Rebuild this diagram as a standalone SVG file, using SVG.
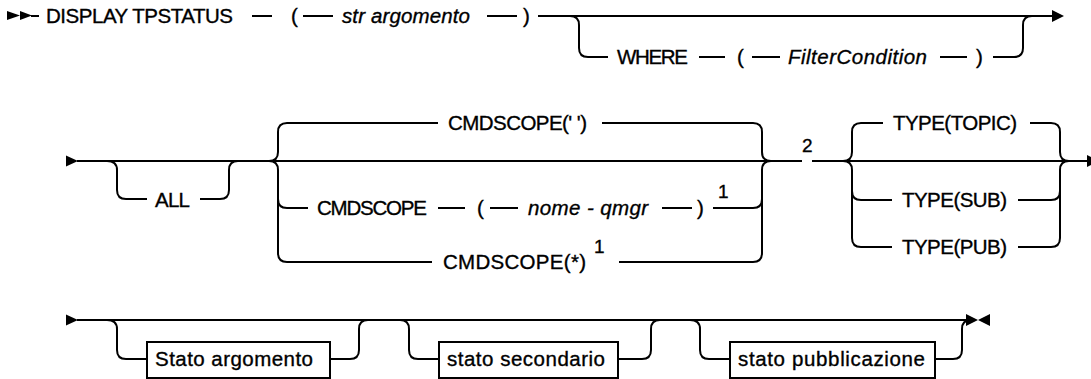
<svg xmlns="http://www.w3.org/2000/svg" width="1091" height="379" viewBox="0 0 1091 379">
<style>
.t{font-family:"Liberation Sans",Arial,sans-serif;font-size:20.5px;fill:#000;stroke:#000;stroke-width:0.35}
.i{font-style:italic}
.s{font-size:19px}
.ln{fill:none;stroke:#000;stroke-width:2}
.box{fill:#fff;stroke:#000;stroke-width:2}
.ah{fill:#000}
</style>
<rect width="1091" height="379" fill="#fff"/>
<g id="connectors">
<polygon class="ah" points="7,11 20,15.5 7,20"/>
<polygon class="ah" points="20,11 32,15.5 20,20"/>
<path class="ln" d="M31,16H39"/>
<path class="ln" d="M252,16H272M303,16H333M487,16H517M538,16H1053"/>
<polygon class="ah" points="1052,10 1064,16 1052,22"/>
<path class="ln" d="M570,16Q579,16 579,25V48Q579,57 588,57H608"/>
<path class="ln" d="M699,57H725M752,57H780M940,57H967M993,57H1014Q1023,57 1023,48V25Q1023,16 1032,16"/>
<polygon class="ah" points="66,155.5 78,161 66,166.5"/>
<path class="ln" d="M77,161H802M812,161H1088"/>
<polygon class="ah" points="1087,155 1099,161 1087,167"/>
<path class="ln" d="M107,161Q117,161 117,170V190Q117,199 126,199H147M200,199H220Q229,199 229,190V170Q229,161 238,161"/>
<path class="ln" d="M269,161Q278,161 278,152V132Q278,123 287,123H438M602,123H753Q762,123 762,132V152Q762,161 771,161"/>
<path class="ln" d="M269,161Q278,161 278,170V253Q278,262 287,262H432M619,262H753Q762,262 762,253V170Q762,161 771,161"/>
<path class="ln" d="M278,199Q278,208 287,208H308M438,208H465M490,208H518M662,208H692M713,208H753Q762,208 762,199"/>
<path class="ln" d="M843,161Q852,161 852,152V132Q852,123 861,123H883M1030,123H1051Q1060,123 1060,132V152Q1060,161 1069,161"/>
<path class="ln" d="M843,161Q852,161 852,170V238Q852,247 861,247H892M1018,247H1051Q1060,247 1060,238V170Q1060,161 1069,161"/>
<path class="ln" d="M852,191Q852,200 861,200H892M1018,200H1051Q1060,200 1060,191"/>
<polygon class="ah" points="66,314.5 78,320 66,325.5"/>
<path class="ln" d="M77,320H966"/>
<polygon class="ah" points="966,314 978,320 966,326"/>
<polygon class="ah" points="990,314 978,320 990,326"/>
<path class="ln" d="M107,320Q117,320 117,329V350Q117,359 126,359H147M330,359H350Q359,359 359,350V329Q359,320 368,320"/>
<path class="ln" d="M400,320Q409,320 409,329V350Q409,359 418,359H439M618,359H642Q651,359 651,350V329Q651,320 660,320"/>
<path class="ln" d="M690,320Q700,320 700,329V350Q700,359 709,359H730M935,359H953Q962,359 962,350V329Q962,320 971,320"/>
</g>
<g id="n-display"><text class="t" x="46" y="23" textLength="187">DISPLAY TPSTATUS</text></g>
<g id="n-lp1"><text class="t" x="291" y="23">(</text></g>
<g id="n-str"><text class="t i" x="342" y="23" textLength="128">str argomento</text></g>
<g id="n-rp1"><text class="t" x="523" y="23">)</text></g>
<g id="n-where"><text class="t" x="617" y="64" textLength="71">WHERE</text></g>
<g id="n-lp2"><text class="t" x="737" y="64">(</text></g>
<g id="n-filter"><text class="t i" x="788" y="64" textLength="139">FilterCondition</text></g>
<g id="n-rp2"><text class="t" x="976" y="64">)</text></g>
<g id="n-all"><text class="t" x="155" y="207" textLength="35">ALL</text></g>
<g id="n-cmdblank"><text class="t" x="448" y="130" textLength="139">CMDSCOPE(' ')</text></g>
<g id="n-cmdq"><text class="t" x="317" y="215" textLength="110">CMDSCOPE</text></g>
<g id="n-lp3"><text class="t" x="477" y="215">(</text></g>
<g id="n-qmgr"><text class="t i" x="528" y="215" textLength="120">nome - qmgr</text></g>
<g id="n-rp3"><text class="t" x="697" y="215">)</text></g>
<g id="n-note1a"><text class="t s" x="718" y="198">1</text></g>
<g id="n-cmdstar"><text class="t" x="443" y="269" textLength="143">CMDSCOPE(*)</text></g>
<g id="n-note1b"><text class="t s" x="594" y="253">1</text></g>
<g id="n-note2"><text class="t s" x="802" y="152">2</text></g>
<g id="n-topic"><text class="t" x="893" y="130" textLength="124">TYPE(TOPIC)</text></g>
<g id="n-sub"><text class="t" x="902" y="207" textLength="105">TYPE(SUB)</text></g>
<g id="n-pub"><text class="t" x="902" y="254" textLength="105">TYPE(PUB)</text></g>
<g id="n-stato-arg"><rect class="box" x="147" y="342" width="183" height="36"/><text class="t" x="155" y="366" textLength="158">Stato argomento</text></g>
<g id="n-stato-sec"><rect class="box" x="439" y="342" width="179" height="36"/><text class="t" x="447" y="366" textLength="158">stato secondario</text></g>
<g id="n-stato-pub"><rect class="box" x="730" y="342" width="205" height="36"/><text class="t" x="738" y="366" textLength="187">stato pubblicazione</text></g>
</svg>
